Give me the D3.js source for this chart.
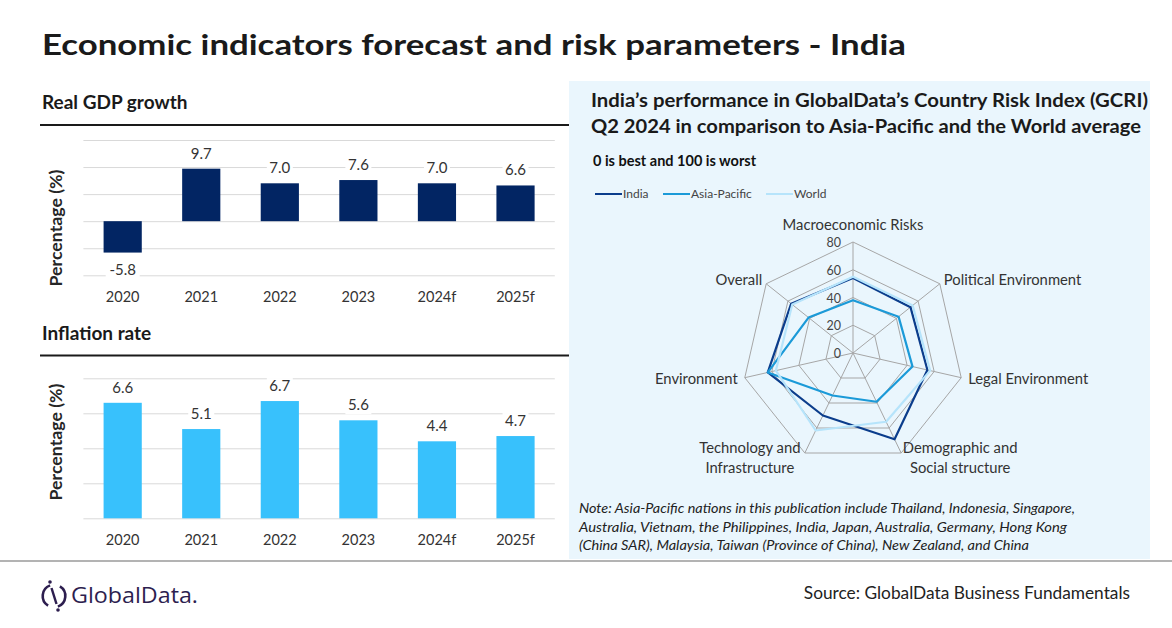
<!DOCTYPE html>
<html>
<head>
<meta charset="utf-8">
<script src="https://cdn.jsdelivr.net/npm/d3@7"></script>
<style>
  body { margin: 0; background: #fff; }
  svg { display: block; font-family: Lato, "Open Sans", sans-serif; }
</style>
</head>
<body>
<div id="chart"></div>
<script>
// ---- data ----
const years = ["2020", "2021", "2022", "2023", "2024f", "2025f"];
const gdpValues = [-5.8, 9.7, 7.0, 7.6, 7.0, 6.6];
const inflationValues = [6.6, 5.1, 6.7, 5.6, 4.4, 4.7];
const gdpTicks = [-10, -5, 0, 5, 10, 15];
const inflationTicks = [0, 2, 4, 6, 8];

const riskAxes = [
  ["Macroeconomic Risks"],
  ["Political Environment"],
  ["Legal Environment"],
  ["Demographic and", "Social structure"],
  ["Technology and", "Infrastructure"],
  ["Environment"],
  ["Overall"]
];
const seriesNames = ["India", "Asia-Pacific", "World"];
const indiaScores = [54, 53, 55, 69, 50, 63, 57];
const asiaPacificScores = [38, 42, 44, 39, 34, 63, 41];
const worldScores = [55, 55, 57, 55, 62, 57, 56];
const radarTicks = [0, 20, 40, 60, 80];

const noteLines = [
  "Note: Asia-Pacific nations in this publication include Thailand, Indonesia, Singapore,",
  "Australia, Vietnam, the Philippines, India, Japan, Australia, Germany, Hong Kong",
  "(China SAR), Malaysia, Taiwan (Province of China), New Zealand, and China"
];
const noteWidths = [496, 488, 450];

const W = 1172, H = 628;
const seriesColors = ["#0b3d8c", "#1b9ad8", "#b6e4fb"];

const svg = d3.select("#chart").append("svg")
  .attr("width", W)
  .attr("height", H);

// Title
svg.append("text")
  .attr("x", 42).attr("y", 55)
  .attr("textLength", 864).attr("lengthAdjust", "spacingAndGlyphs")
  .style("font-size", "29px").style("font-weight", "bold")
  .attr("fill", "#1a1a1a")
  .text("Economic indicators forecast and risk parameters - India");

// ---- bar charts ----
function drawBarChart(opts) {
  const g = svg.append("g");

  g.append("text")
    .attr("x", 42).attr("y", opts.titleY)
    .style("font-size", "19px").style("font-weight", "bold")
    .attr("fill", "#1a1a1a")
    .text(opts.title);

  g.append("line")
    .attr("x1", 40).attr("x2", 570)
    .attr("y1", opts.ruleY).attr("y2", opts.ruleY)
    .attr("stroke", "#1a1a1a").attr("stroke-width", 2);

  const x = d3.scaleBand()
    .domain(years)
    .range([83.4, 554.8])
    .paddingInner(0.514)
    .paddingOuter(0.257);

  const y = d3.scaleLinear()
    .domain(d3.extent(opts.ticks))
    .range([opts.bottom, opts.top]);

  // gridlines
  const grid = g.append("g")
    .attr("transform", "translate(83.4,0)")
    .call(d3.axisLeft(y).tickValues(opts.ticks).tickSize(-(554.8 - 83.4)).tickFormat(""));
  grid.select(".domain").remove();
  grid.selectAll(".tick line").attr("stroke", "#d9d9d9").attr("stroke-width", 1);

  g.selectAll(".bar")
    .data(opts.values)
    .enter().append("rect")
    .attr("x", (d, i) => x(years[i]))
    .attr("width", x.bandwidth())
    .attr("y", d => y(Math.max(0, d)))
    .attr("height", d => Math.abs(y(d) - y(0)))
    .attr("fill", opts.color);

  // value labels with a white backing
  const labels = g.selectAll(".val")
    .data(opts.values)
    .enter().append("g")
    .attr("transform", (d, i) => {
      const cx = x(years[i]) + x.bandwidth() / 2;
      const by = d >= 0 ? y(d) - 10 : y(d) + 22;
      return `translate(${cx},${by})`;
    });
  labels.append("rect")
    .attr("x", d => -(d < 0 ? 17 : 13))
    .attr("width", d => d < 0 ? 34 : 26)
    .attr("y", -13).attr("height", 17)
    .attr("fill", "#fff");
  labels.append("text")
    .attr("text-anchor", "middle")
    .style("font-size", "15px")
    .attr("fill", "#333")
    .text(d => d.toFixed(1));

  // category axis
  const xAxis = g.append("g")
    .attr("transform", `translate(0,${opts.bottom})`)
    .call(d3.axisBottom(x).tickSize(0).tickPadding(opts.labelPad));
  xAxis.select(".domain").remove();
  xAxis.selectAll("text")
    .style("font-size", "14.5px")
    .style("font-family", "Lato, 'Open Sans', sans-serif")
    .attr("fill", "#333");

  g.append("text")
    .attr("transform", `translate(62,${opts.axisTitleY}) rotate(-90)`)
    .attr("text-anchor", "middle")
    .attr("textLength", 117).attr("lengthAdjust", "spacingAndGlyphs")
    .style("font-size", "17.5px").style("font-weight", "bold")
    .attr("fill", "#262626")
    .text("Percentage (%)");
}

drawBarChart({
  title: "Real GDP growth", titleY: 109, ruleY: 125,
  values: gdpValues, ticks: gdpTicks, top: 140, bottom: 275.3,
  color: "#022563", labelPad: 16, axisTitleY: 228
});

drawBarChart({
  title: "Inflation rate", titleY: 340, ruleY: 355.5,
  values: inflationValues, ticks: inflationTicks, top: 378.3, bottom: 518.3,
  color: "#38c1fc", labelPad: 16, axisTitleY: 442
});

// ---- right panel ----
svg.append("rect")
  .attr("x", 569).attr("y", 81)
  .attr("width", 1150 - 569).attr("height", 559 - 81)
  .attr("fill", "#eaf6fd");

svg.append("text")
  .attr("x", 591).attr("y", 107)
  .attr("textLength", 557).attr("lengthAdjust", "spacingAndGlyphs")
  .style("font-size", "19px").style("font-weight", "bold")
  .attr("fill", "#1a1a1a")
  .text("India\u2019s performance in GlobalData\u2019s Country Risk Index (GCRI)");
svg.append("text")
  .attr("x", 591).attr("y", 133)
  .attr("textLength", 550).attr("lengthAdjust", "spacingAndGlyphs")
  .style("font-size", "19px").style("font-weight", "bold")
  .attr("fill", "#1a1a1a")
  .text("Q2 2024 in comparison to Asia-Pacific and the World average");

svg.append("text")
  .attr("x", 593).attr("y", 166)
  .style("font-size", "14.5px").style("font-weight", "bold")
  .attr("fill", "#111")
  .text("0 is best and 100 is worst");

// legend
const legendX = [595, 663, 766];
const legend = svg.selectAll(".legend")
  .data(seriesNames)
  .enter().append("g")
  .attr("transform", (d, i) => `translate(${legendX[i]},194)`);
legend.append("line")
  .attr("x1", 0).attr("x2", 27)
  .attr("stroke", (d, i) => seriesColors[i])
  .attr("stroke-width", 2);
legend.append("text")
  .attr("x", 28).attr("y", 4)
  .style("font-size", "12px")
  .attr("fill", "#444")
  .text(d => d);

// radar
const cx = 853, cy = 353;
const r = d3.scaleLinear().domain([0, 80]).range([0, 111]);
const angle = i => i * 2 * Math.PI / riskAxes.length;
const radar = svg.append("g").attr("transform", `translate(${cx},${cy})`);

const ringLine = d3.lineRadial()
  .angle((d, i) => angle(i))
  .radius(d => r(d))
  .curve(d3.curveLinearClosed);

radar.selectAll(".ring")
  .data(radarTicks.slice(1))
  .enter().append("path")
  .attr("d", t => ringLine(riskAxes.map(() => t)))
  .attr("fill", "none")
  .attr("stroke", "#a6a6a6").attr("stroke-width", 1);

radar.selectAll(".spoke")
  .data(riskAxes)
  .enter().append("line")
  .attr("x1", 0).attr("y1", 0)
  .attr("x2", (d, i) => r(80) * Math.sin(angle(i)))
  .attr("y2", (d, i) => -r(80) * Math.cos(angle(i)))
  .attr("stroke", "#a6a6a6").attr("stroke-width", 1);

radar.selectAll(".tick")
  .data(radarTicks)
  .enter().append("text")
  .attr("x", -12)
  .attr("y", t => -r(t) + 5)
  .attr("text-anchor", "end")
  .style("font-size", "12.5px")
  .attr("fill", "#444")
  .text(t => t);

const seriesData = [indiaScores, asiaPacificScores, worldScores];
radar.selectAll(".series")
  .data(seriesData)
  .enter().append("path")
  .attr("d", d => ringLine(d))
  .attr("fill", "none")
  .attr("stroke", (d, i) => seriesColors[i])
  .attr("stroke-width", 2.2)
  .attr("stroke-linejoin", "round");

// axis labels: anchor and offset from each outer vertex
const labelAnchor = ["middle", "start", "start", "middle", "middle", "end", "end"];
const labelOffset = [[0, -12], [4, 1], [7, 6], [59, 0], [-55, 0], [-7, 6], [-4, 1]];
const axisLabel = radar.selectAll(".axislabel")
  .data(riskAxes)
  .enter().append("text")
  .attr("text-anchor", (d, i) => labelAnchor[i])
  .style("font-size", "14.8px")
  .attr("fill", "#333")
  .attr("transform", (d, i) => {
    const vx = r(80) * Math.sin(angle(i)) + labelOffset[i][0];
    const vy = -r(80) * Math.cos(angle(i)) + labelOffset[i][1];
    return `translate(${vx},${vy})`;
  });
axisLabel.selectAll("tspan")
  .data(d => d)
  .enter().append("tspan")
  .attr("x", 0)
  .attr("dy", (d, i) => i === 0 ? 0 : 20)
  .text(d => d);

// note
svg.selectAll(".note")
  .data(noteLines)
  .enter().append("text")
  .attr("x", 579)
  .attr("y", (d, i) => 513 + i * 18.5)
  .attr("textLength", (d, i) => noteWidths[i]).attr("lengthAdjust", "spacingAndGlyphs")
  .style("font-size", "14px").style("font-style", "italic")
  .attr("fill", "#222")
  .text(d => d);

// ---- footer ----
svg.append("line")
  .attr("x1", 0).attr("x2", W)
  .attr("y1", 561).attr("y2", 561)
  .attr("stroke", "#9a9a9a").attr("stroke-width", 1.5);

const logo = svg.append("g").attr("transform", "translate(54,596)");
const logoColor = "#2d1e4f";
const arc = d3.arc().innerRadius(10).outerRadius(12.6);
logo.append("path")
  .attr("d", arc({startAngle: 0.55, endAngle: Math.PI - 0.35}))
  .attr("fill", logoColor);
logo.append("path")
  .attr("d", arc({startAngle: Math.PI + 0.55, endAngle: 2 * Math.PI - 0.35}))
  .attr("fill", logoColor);
logo.append("line")
  .attr("x1", -2.5).attr("y1", -8).attr("x2", 2.5).attr("y2", 8)
  .attr("stroke", logoColor).attr("stroke-width", 2.4);
logo.append("circle").attr("cx", -4).attr("cy", -14).attr("r", 1.8).attr("fill", logoColor);
logo.append("circle").attr("cx", 4).attr("cy", 14).attr("r", 1.8).attr("fill", logoColor);
svg.append("text")
  .attr("x", 71).attr("y", 603)
  .style("font-size", "21px")
  .style("font-family", "'Open Sans', Lato, sans-serif")
  .attr("fill", logoColor)
  .attr("textLength", 127).attr("lengthAdjust", "spacingAndGlyphs")
  .text("GlobalData.");

svg.append("text")
  .attr("x", 1130).attr("y", 599)
  .attr("text-anchor", "end")
  .style("font-size", "17.3px")
  .attr("fill", "#222")
  .text("Source: GlobalData Business Fundamentals");
</script>
</body>
</html>
